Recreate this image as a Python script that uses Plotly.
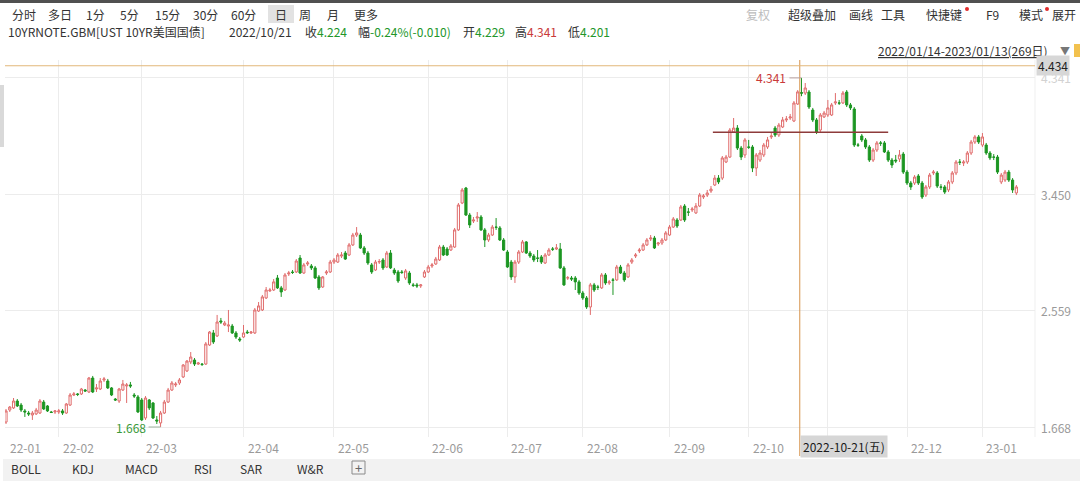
import plotly.graph_objects as go

# ---------------- data ----------------
open_ = [
    1.706, 1.798, 1.814, 1.867, 1.836, 1.791, 1.775, 1.760, 1.768, 1.775,
    1.859, 1.829, 1.783, 1.783, 1.783, 1.791, 1.775, 1.836, 1.913, 1.921,
    1.921, 1.951, 1.936, 2.043, 1.959, 1.959, 2.028, 2.020, 1.967, 1.882,
    1.867, 1.951, 1.982, 1.990, 1.913, 1.898, 1.875, 1.737, 1.875, 1.852,
    1.722, 1.699, 1.775, 1.859, 1.951, 1.990, 2.005, 2.051, 2.097, 2.166,
    2.181, 2.150, 2.150, 2.150, 2.296, 2.388, 2.365, 2.480, 2.449, 2.441,
    2.441, 2.388, 2.342, 2.357, 2.395, 2.388, 2.388, 2.556, 2.564, 2.656,
    2.710, 2.717, 2.809, 2.733, 2.717, 2.840, 2.855, 2.855, 2.962, 2.847,
    2.916, 2.901, 2.886, 2.817, 2.740, 2.847, 2.855, 2.931, 2.931, 2.977,
    3.000, 2.985, 3.062, 3.138, 3.138, 3.039, 3.000, 2.909, 2.870, 2.931,
    2.947, 2.893, 3.000, 2.870, 2.855, 2.855, 2.809, 2.847, 2.756, 2.756,
    2.748, 2.817, 2.855, 2.901, 2.916, 2.947, 3.046, 3.031, 3.023, 3.046,
    3.177, 3.383, 3.498, 3.291, 3.245, 3.268, 3.276, 3.177, 3.100, 3.138,
    3.199, 3.192, 3.100, 3.008, 2.931, 2.817, 2.931, 3.008, 3.085, 3.000,
    2.977, 2.962, 2.970, 2.924, 2.985, 3.031, 3.031, 3.031, 2.886, 2.809,
    2.809, 2.809, 2.779, 2.694, 2.656, 2.587, 2.756, 2.740, 2.733, 2.832,
    2.771, 2.794, 2.794, 2.893, 2.847, 2.817, 2.931, 2.977, 3.016, 3.023,
    3.062, 3.108, 3.115, 3.069, 3.077, 3.100, 3.138, 3.199, 3.253, 3.253,
    3.360, 3.314, 3.330, 3.307, 3.360, 3.429, 3.444, 3.475, 3.521, 3.574,
    3.574, 3.697, 3.735, 3.927, 3.957, 3.804, 3.751, 3.812, 3.812, 3.651,
    3.712, 3.751, 3.812, 3.889, 3.957, 3.904, 3.965, 4.019, 4.034, 4.011,
    4.141, 4.229, 4.225, 4.233, 4.095, 4.019, 3.942, 4.042, 4.057, 4.057,
    4.149, 4.149, 4.149, 4.233, 4.134, 4.103, 3.827, 3.896, 3.866, 3.812,
    3.712, 3.789, 3.843, 3.843, 3.774, 3.712, 3.712, 3.720, 3.758, 3.620,
    3.536, 3.536, 3.590, 3.536, 3.444, 3.506, 3.613, 3.613, 3.506, 3.506,
    3.483, 3.544, 3.613, 3.697, 3.689, 3.697, 3.766, 3.850, 3.889, 3.827,
    3.827, 3.766, 3.735, 3.735, 3.544, 3.559, 3.620, 3.559, 3.460,
]
high = [
    1.806, 1.829, 1.890, 1.882, 1.852, 1.806, 1.791, 1.791, 1.814, 1.882,
    1.875, 1.836, 1.791, 1.798, 1.806, 1.806, 1.852, 1.928, 1.936, 1.928,
    1.967, 1.959, 2.051, 2.059, 1.997, 2.043, 2.051, 2.036, 1.974, 1.890,
    1.967, 2.028, 2.005, 2.013, 1.928, 1.913, 1.890, 1.905, 1.882, 1.859,
    1.752, 1.791, 1.875, 1.967, 2.020, 2.013, 2.043, 2.150, 2.181, 2.242,
    2.196, 2.166, 2.158, 2.319, 2.403, 2.411, 2.526, 2.503, 2.480, 2.564,
    2.457, 2.403, 2.357, 2.449, 2.411, 2.403, 2.579, 2.625, 2.679, 2.740,
    2.733, 2.801, 2.832, 2.748, 2.847, 2.863, 2.870, 2.954, 2.985, 2.924,
    2.939, 2.916, 2.901, 2.832, 2.824, 2.870, 2.947, 2.962, 3.000, 3.008,
    3.016, 3.077, 3.154, 3.199, 3.154, 3.054, 3.016, 2.924, 2.947, 2.954,
    2.962, 3.016, 3.023, 2.886, 2.870, 2.870, 2.878, 2.863, 2.771, 2.771,
    2.763, 2.870, 2.909, 2.924, 2.970, 3.062, 3.062, 3.046, 3.069, 3.192,
    3.383, 3.498, 3.506, 3.307, 3.276, 3.314, 3.291, 3.192, 3.154, 3.215,
    3.268, 3.207, 3.115, 3.023, 2.947, 2.947, 3.023, 3.100, 3.092, 3.016,
    2.993, 3.023, 2.985, 3.000, 3.039, 3.046, 3.069, 3.077, 2.901, 2.824,
    2.824, 2.824, 2.794, 2.710, 2.671, 2.771, 2.771, 2.756, 2.847, 2.847,
    2.794, 2.809, 2.909, 2.909, 2.863, 2.924, 2.962, 3.000, 3.039, 3.077,
    3.115, 3.138, 3.131, 3.085, 3.115, 3.169, 3.215, 3.276, 3.268, 3.368,
    3.375, 3.345, 3.353, 3.383, 3.460, 3.452, 3.483, 3.513, 3.597, 3.597,
    3.743, 3.751, 3.957, 4.034, 3.980, 3.820, 3.881, 3.866, 3.827, 3.766,
    3.789, 3.843, 3.889, 3.919, 3.973, 3.996, 4.042, 4.049, 4.065, 4.164,
    4.248, 4.341, 4.302, 4.248, 4.111, 4.034, 4.072, 4.088, 4.172, 4.149,
    4.225, 4.172, 4.241, 4.248, 4.149, 4.118, 3.843, 3.911, 3.881, 3.827,
    3.804, 3.858, 3.858, 3.858, 3.789, 3.728, 3.751, 3.789, 3.774, 3.636,
    3.552, 3.597, 3.605, 3.552, 3.521, 3.613, 3.636, 3.628, 3.528, 3.521,
    3.559, 3.628, 3.712, 3.720, 3.712, 3.781, 3.866, 3.904, 3.904, 3.919,
    3.843, 3.781, 3.758, 3.751, 3.613, 3.636, 3.636, 3.574, 3.521,
]
low = [
    1.691, 1.783, 1.806, 1.821, 1.783, 1.745, 1.752, 1.722, 1.760, 1.768,
    1.798, 1.783, 1.775, 1.768, 1.768, 1.760, 1.768, 1.829, 1.905, 1.905,
    1.913, 1.936, 1.928, 1.928, 1.936, 1.951, 2.013, 1.959, 1.905, 1.867,
    1.852, 1.944, 1.852, 1.967, 1.890, 1.775, 1.714, 1.722, 1.798, 1.729,
    1.691, 1.668, 1.768, 1.852, 1.944, 1.974, 1.990, 2.043, 2.089, 2.150,
    2.135, 2.143, 2.135, 2.143, 2.288, 2.304, 2.357, 2.457, 2.441, 2.395,
    2.380, 2.342, 2.319, 2.350, 2.380, 2.380, 2.380, 2.549, 2.556, 2.648,
    2.702, 2.710, 2.725, 2.664, 2.710, 2.824, 2.840, 2.847, 2.840, 2.840,
    2.901, 2.870, 2.801, 2.717, 2.733, 2.832, 2.847, 2.916, 2.924, 2.962,
    2.947, 2.977, 3.054, 3.123, 3.031, 2.985, 2.909, 2.840, 2.863, 2.916,
    2.870, 2.886, 2.878, 2.832, 2.771, 2.840, 2.794, 2.756, 2.740, 2.733,
    2.733, 2.809, 2.847, 2.886, 2.909, 2.939, 2.977, 2.977, 3.016, 3.039,
    3.169, 3.375, 3.284, 3.192, 3.230, 3.238, 3.169, 3.046, 3.085, 3.131,
    3.177, 3.092, 3.016, 2.886, 2.794, 2.771, 2.916, 3.000, 2.993, 2.962,
    2.931, 2.931, 2.916, 2.916, 2.977, 3.016, 3.023, 2.878, 2.748, 2.794,
    2.786, 2.717, 2.679, 2.641, 2.572, 2.526, 2.702, 2.717, 2.725, 2.756,
    2.756, 2.679, 2.786, 2.840, 2.779, 2.809, 2.916, 2.962, 3.000, 3.016,
    3.054, 3.092, 3.031, 3.054, 3.062, 3.092, 3.131, 3.192, 3.192, 3.245,
    3.238, 3.284, 3.314, 3.299, 3.352, 3.414, 3.429, 3.460, 3.513, 3.528,
    3.559, 3.689, 3.728, 3.919, 3.789, 3.712, 3.728, 3.797, 3.620, 3.590,
    3.697, 3.735, 3.797, 3.873, 3.889, 3.889, 3.957, 4.003, 4.019, 4.003,
    4.134, 4.201, 4.210, 4.103, 4.003, 3.911, 3.927, 4.034, 4.042, 4.049,
    4.134, 4.134, 4.141, 4.118, 4.095, 3.812, 3.812, 3.850, 3.797, 3.697,
    3.697, 3.774, 3.820, 3.766, 3.697, 3.651, 3.689, 3.697, 3.605, 3.521,
    3.483, 3.521, 3.521, 3.414, 3.429, 3.490, 3.597, 3.498, 3.483, 3.452,
    3.467, 3.528, 3.597, 3.674, 3.666, 3.682, 3.751, 3.835, 3.835, 3.812,
    3.751, 3.712, 3.712, 3.605, 3.528, 3.544, 3.544, 3.460, 3.444,
]
close = [
    1.791, 1.821, 1.867, 1.829, 1.798, 1.783, 1.768, 1.775, 1.798, 1.867,
    1.806, 1.791, 1.779, 1.791, 1.791, 1.775, 1.844, 1.913, 1.921, 1.917,
    1.959, 1.944, 2.043, 1.936, 1.967, 2.020, 2.036, 1.967, 1.913, 1.875,
    1.959, 1.997, 1.990, 1.982, 1.905, 1.783, 1.722, 1.890, 1.814, 1.737,
    1.714, 1.775, 1.859, 1.951, 2.005, 1.997, 2.028, 2.143, 2.173, 2.204,
    2.150, 2.158, 2.147, 2.304, 2.395, 2.319, 2.472, 2.472, 2.464, 2.449,
    2.388, 2.357, 2.334, 2.388, 2.390, 2.395, 2.564, 2.595, 2.664, 2.717,
    2.717, 2.779, 2.733, 2.702, 2.832, 2.847, 2.851, 2.939, 2.847, 2.909,
    2.924, 2.886, 2.809, 2.733, 2.817, 2.855, 2.931, 2.947, 2.985, 2.985,
    2.954, 3.062, 3.138, 3.154, 3.039, 3.000, 2.924, 2.855, 2.931, 2.935,
    2.886, 3.000, 2.886, 2.847, 2.786, 2.851, 2.863, 2.771, 2.752, 2.748,
    2.756, 2.855, 2.893, 2.909, 2.954, 3.046, 2.985, 2.985, 3.054, 3.177,
    3.368, 3.483, 3.291, 3.215, 3.253, 3.276, 3.177, 3.100, 3.138, 3.199,
    3.197, 3.100, 3.023, 2.893, 2.817, 2.931, 3.008, 3.085, 3.000, 2.977,
    2.947, 2.960, 2.931, 2.985, 3.023, 3.029, 3.039, 2.886, 2.756, 2.811,
    2.801, 2.779, 2.694, 2.656, 2.587, 2.756, 2.717, 2.738, 2.832, 2.771,
    2.779, 2.792, 2.893, 2.847, 2.794, 2.909, 2.947, 2.985, 3.023, 3.062,
    3.100, 3.115, 3.039, 3.077, 3.100, 3.154, 3.199, 3.261, 3.207, 3.353,
    3.253, 3.313, 3.337, 3.360, 3.444, 3.437, 3.460, 3.490, 3.574, 3.544,
    3.728, 3.735, 3.942, 3.957, 3.804, 3.735, 3.866, 3.810, 3.651, 3.751,
    3.766, 3.827, 3.866, 3.896, 3.904, 3.980, 4.019, 4.026, 4.042, 4.149,
    4.234, 4.224, 4.264, 4.118, 4.019, 3.927, 4.057, 4.072, 4.111, 4.134,
    4.157, 4.148, 4.225, 4.134, 4.111, 3.827, 3.826, 3.866, 3.812, 3.712,
    3.789, 3.843, 3.841, 3.774, 3.712, 3.674, 3.705, 3.751, 3.620, 3.536,
    3.506, 3.582, 3.536, 3.429, 3.506, 3.597, 3.620, 3.513, 3.504, 3.467,
    3.544, 3.613, 3.697, 3.695, 3.697, 3.766, 3.850, 3.889, 3.850, 3.889,
    3.766, 3.728, 3.734, 3.620, 3.597, 3.620, 3.559, 3.483, 3.506,
]

month_labels = ["22-01", "22-02", "22-03", "22-04", "22-05", "22-06", "22-07",
                "22-08", "22-09", "22-10", "22-11", "22-12", "23-01"]
month_start = [0, 14, 36, 63, 87, 112, 133, 153, 176, 197, 218, 239, 259]
price_ticks = [1.668, 2.559, 3.450, 4.341]
price_tick_labels = ["1.668", "2.559", "3.450", "4.341"]

crosshair_idx = 211
crosshair_price = 4.434
crosshair_date = "2022-10-21(五)"
trend_from, trend_to, trend_level = 187.5, 234.0, 3.925

toolbar_left = ["分时", "多日", "1分", "5分", "15分", "30分", "60分", "日", "周", "月", "更多"]
toolbar_right = ["复权", "超级叠加", "画线", "工具", "快捷键", "F9", "模式", "展开"]
indicators = ["BOLL", "KDJ", "MACD", "RSI", "SAR", "W&R"]
symbol_name = "10YRNOTE.GBM[UST 10YR美国国债]"
info_date = "2022/10/21"
info_close, info_chg, info_open, info_high, info_low = "4.224", "-0.24%(-0.010)", "4.229", "4.341", "4.201"
range_text = "2022/01/14-2023/01/13(269日)"

n = len(close)
assert len(open_) == n and len(high) == n and len(low) == n, (len(open_), len(high), len(low), n)
idx = list(range(n))

# ---------------- geometry ----------------
W, H = 1080, 483
PL, PR, PT, PB = 5, 1035, 60, 437
PX_PER_BAR = 3.77
X0 = -0.265
X1 = X0 + (PR - PL) / PX_PER_BAR
Y0 = 1.668 - (PB - 427) / 130.6
Y1 = 1.668 + (427 - PT) / 130.6


def fx(px):
    return (px - PL) / (PR - PL)


def fy(py):
    return (PB - py) / (PB - PT)


FONT = "Noto Sans CJK SC, Noto Sans, sans-serif"
GREEN = "#22962a"
RED = "#c93a3a"
UP = "#e06b6b"
GRID = "#ececec"

fig = go.Figure()
fig.add_trace(go.Candlestick(
    x=idx, open=open_, high=high, low=low, close=close,
    increasing=dict(line=dict(color=UP, width=1), fillcolor="#ffffff"),
    decreasing=dict(line=dict(color="#1c9622", width=1), fillcolor="#1c9622"),
    whiskerwidth=0, hoverinfo="skip", showlegend=False,
))

ann = []
shapes = []


def text(t, x, y, size=12, color="#333", xanchor="left", **kw):
    d = dict(text=t, x=fx(x), y=fy(y), xref="paper", yref="paper", showarrow=False,
             xanchor=xanchor, yanchor="middle", font=dict(family=FONT, size=size, color=color))
    d.update(kw)
    ann.append(d)


def rect(x0, y0, x1, y1, fill, line=None, layer="below"):
    shapes.append(dict(type="rect", xref="paper", yref="paper", x0=fx(x0), x1=fx(x1),
                       y0=fy(y1), y1=fy(y0), fillcolor=fill, layer=layer,
                       line=dict(width=1 if line else 0, color=line or fill)))


# top strip and toolbar
rect(0, 0, 1080, 3, "#505050")
rect(268, 5, 294, 23, "#e2e2e2")
left_pos = [24, 60, 95, 129, 167, 205, 243, 281, 305, 333, 366]
for t, x in zip(toolbar_left, left_pos):
    text(t, x, 14, xanchor="center")
right_pos = [758, 812, 861, 893, 944, 992, 1031, 1064]
for t, x in zip(toolbar_right, right_pos):
    text(t, x, 14, xanchor="center", color="#bdbdbd" if t == "复权" else "#333")
for cx in (967, 1047):
    shapes.append(dict(type="circle", xref="paper", yref="paper", x0=fx(cx - 2), x1=fx(cx + 2),
                       y0=fy(11), y1=fy(7), fillcolor="#e02a2a", line=dict(width=0)))

# info line
text(symbol_name, 6, 32)
text(info_date, 227, 32)
text(f'收<span style="color:{GREEN}">{info_close}</span>', 303, 32)
text(f'幅<span style="color:{GREEN}">{info_chg}</span>', 356, 32)
text(f'开<span style="color:{GREEN}">{info_open}</span>', 461, 32)
text(f'高<span style="color:{RED}">{info_high}</span>', 513, 32)
text(f'低<span style="color:{GREEN}">{info_low}</span>', 566, 32)

# date range
text(f"<u>{range_text}</u>", 876, 51)
text("▼", 1058, 51, size=10, color="#777")
rect(1074, 44, 1080, 57, "#f2c14e")

# left tab
rect(0, 85, 4, 147, "#d9d9d9")

# right edge of plot
shapes.append(dict(type="line", xref="paper", yref="paper", x0=1, x1=1, y0=0, y1=1,
                   line=dict(color="#efefef", width=1), layer="below"))

# price labels on the right
for v, lab in zip(price_ticks, price_tick_labels):
    ann.append(dict(text=lab, x=fx(1039), y=v, xref="paper", yref="y", showarrow=False,
                    xanchor="left", yanchor="middle",
                    font=dict(family=FONT, size=12, color="#d2d2d2" if v > 4 else "#9a9a9a")))

# month labels under the axis (the one under the crosshair date box is hidden)
for lab, i in zip(month_labels, month_start):
    if crosshair_idx <= i <= crosshair_idx + 24:
        continue
    ann.append(dict(text=lab, x=i, y=fy(447), xref="x", yref="paper", showarrow=False,
                    xanchor="left", yanchor="middle", xshift=2,
                    font=dict(family=FONT, size=12, color="#9a9a9a")))

# crosshair
shapes.append(dict(type="line", xref="x", yref="paper", x0=crosshair_idx - 0.45, x1=crosshair_idx - 0.45,
                   y0=fy(456), y1=1, line=dict(color="#d7924a", width=1), layer="above"))
shapes.append(dict(type="line", xref="paper", yref="y", x0=0, x1=1, y0=crosshair_price, y1=crosshair_price,
                   line=dict(color="#e2b77a", width=1), layer="above"))
ann.append(dict(text=f"{crosshair_price:.3f}", x=fx(1036), y=crosshair_price, xref="paper", yref="y",
                showarrow=False, xanchor="left", yanchor="middle", bgcolor="#d7d7d7", borderpad=1,
                font=dict(family=FONT, size=12, color="#222")))
ann.append(dict(text=crosshair_date, x=crosshair_idx - 0.3, y=fy(446), xref="x", yref="paper",
                showarrow=False, xanchor="left", yanchor="middle", bgcolor="#d6d6d6", borderpad=2,
                font=dict(family=FONT, size=12, color="#1a1a1a")))

# drawn trend line
shapes.append(dict(type="line", xref="x", yref="y", x0=trend_from, x1=trend_to, y0=trend_level, y1=trend_level,
                   line=dict(color="#8e3b3b", width=1.3), layer="above"))

# extreme markers (from the data)
i_hi = max(idx, key=lambda i: high[i])
i_lo = min(idx, key=lambda i: low[i])
off = 12 / PX_PER_BAR
shapes.append(dict(type="line", xref="x", yref="y", x0=i_hi - off, x1=i_hi, y0=high[i_hi], y1=high[i_hi],
                   line=dict(color="#b9a0a0", width=1)))
ann.append(dict(text=f"{high[i_hi]:.3f}", x=i_hi - off, y=high[i_hi], xref="x", yref="y", showarrow=False,
                xanchor="right", yanchor="middle", xshift=-1,
                font=dict(family=FONT, size=12, color=RED)))
shapes.append(dict(type="line", xref="x", yref="y", x0=i_lo - off, x1=i_lo, y0=low[i_lo], y1=low[i_lo],
                   line=dict(color="#9fb3a0", width=1)))
ann.append(dict(text=f"{low[i_lo]:.3f}", x=i_lo - off, y=low[i_lo], xref="x", yref="y", showarrow=False,
                xanchor="right", yanchor="middle", xshift=-1,
                font=dict(family=FONT, size=12, color="#3a9a3a")))

# bottom indicator bar
rect(3, 459, 1080, 481, "#f2f2f2")
ind_pos = [26, 83, 141, 203, 251, 310]
for t, x in zip(indicators, ind_pos):
    text(t, x, 468, xanchor="center", color="#333")
rect(352, 461, 365, 474, "#f2f2f2", line="#8a8a8a", layer="above")
text("+", 358.5, 467.5, size=13, color="#666", xanchor="center")

fig.update_layout(
    width=W, height=H, autosize=False,
    margin=dict(l=PL, r=W - PR, t=PT, b=H - PB, pad=0),
    paper_bgcolor="white", plot_bgcolor="white",
    showlegend=False, hovermode=False, boxgap=0.18,
    font=dict(family=FONT, size=12, color="#333"),
    xaxis=dict(range=[X0, X1], tickvals=month_start[1:], showticklabels=False, ticks="",
               showgrid=True, gridcolor=GRID, gridwidth=1, zeroline=False, showline=False,
               rangeslider=dict(visible=False), fixedrange=True),
    yaxis=dict(range=[Y0, Y1], tickvals=price_ticks, showticklabels=False, ticks="",
               showgrid=True, gridcolor=GRID, gridwidth=1, zeroline=False, showline=False,
               fixedrange=True),
    annotations=ann, shapes=shapes,
)

fig.write_html(
    "out.html",
    config={"displayModeBar": False, "staticPlot": True},
    post_script="document.body.style.margin='0';document.body.style.padding='0';"
                "document.body.style.overflow='hidden';",
)
